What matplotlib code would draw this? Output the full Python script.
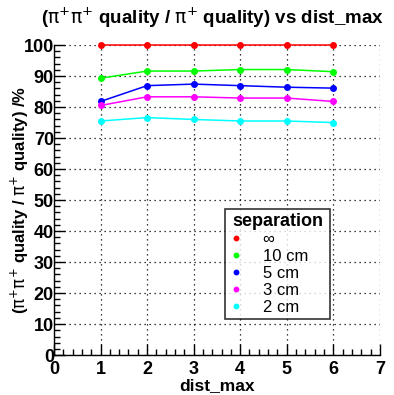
import numpy as np
import matplotlib.pyplot as plt
from matplotlib.ticker import MultipleLocator

plt.rcParams['font.family'] = ['Liberation Sans', 'DejaVu Sans']
plt.rcParams['mathtext.fontset'] = 'dejavusans'

dist_max = [1, 2, 3, 4, 5, 6]
sep_labels = ['\u221e', '10 cm', '5 cm', '3 cm', '2 cm']
sep_colors = ['#ff0000', '#00ff00', '#0000ff', '#ff00ff', '#00ffff']
q_inf = [100, 100, 100, 100, 100, 100]
q_10 = [89.3, 91.6, 91.6, 92.1, 92.1, 91.4]
q_5 = [81.8, 86.9, 87.4, 86.9, 86.4, 86.1]
q_3 = [80.5, 83.3, 83.3, 82.9, 82.9, 81.8]
q_2 = [75.5, 76.6, 76.0, 75.5, 75.5, 75.0]
err_10 = [1.0, 0.3, 0.3, 0.3, 0.3, 0.3]
err_5 = [0.8, 0.3, 0.3, 0.3, 0.3, 0.3]
err_3 = [0.3, 0.3, 0.3, 0.3, 0.3, 0.3]
err_2 = [0.3, 0.3, 0.3, 0.3, 0.3, 0.3]
err_inf = [0, 0, 0, 0, 0, 0]

series = [q_inf, q_10, q_5, q_3, q_2]
errors = [err_inf, err_10, err_5, err_3, err_2]

fig = plt.figure(figsize=(3.94, 3.95), dpi=100)
ax = fig.add_axes([0.137, 0.101, 0.827, 0.785])

for y, e, c, lab in zip(series, errors, sep_colors, sep_labels):
    ax.errorbar(dist_max, y, yerr=e, color=c, lw=1.1, marker='o', ms=4,
                elinewidth=1.0, capsize=0, label=lab, clip_on=False, zorder=3)

ax.set_xlim(0, 7)
ax.set_ylim(0, 100)
ax.xaxis.set_major_locator(MultipleLocator(1))
ax.xaxis.set_minor_locator(MultipleLocator(0.2))
ax.yaxis.set_major_locator(MultipleLocator(10))
ax.yaxis.set_minor_locator(MultipleLocator(2))
ax.tick_params(which='both', direction='in', top=False, right=False, width=1.0,
               labelsize=13)
ax.tick_params(which='major', length=8)
ax.tick_params(which='minor', length=4)
ax.tick_params(axis='y', pad=0)
ax.tick_params(axis='x', pad=4)
for lbl in ax.get_xticklabels() + ax.get_yticklabels():
    lbl.set_fontweight('bold')
ax.spines['top'].set_visible(False)
ax.spines['right'].set_visible(False)
ax.spines['left'].set_linewidth(1.0)
ax.spines['bottom'].set_linewidth(1.0)
ax.grid(True, which='major', color='black', linestyle=(0, (1, 3)), linewidth=0.9)
ax.set_axisbelow(True)

ax.set_xlabel('dist_max', fontsize=12.5, fontweight='bold', labelpad=0)
ax.set_ylabel(r'($\mathrm{\pi^{+}\pi^{+}}$ quality / $\mathrm{\pi^{+}}$ quality) /%',
              fontsize=12, fontweight='bold', labelpad=-5)
fig.text(0.54, 0.955,
         r'($\mathrm{\pi^{+}\pi^{+}}$ quality / $\mathrm{\pi^{+}}$ quality) vs dist_max',
         fontsize=13.5, fontweight='bold', ha='center', va='center')

handles, labels = ax.get_legend_handles_labels()
leg = ax.legend([h[0] for h in handles], labels, title='separation', loc='lower left',
                bbox_to_anchor=(0.5, 0.09, 0.374, 0.368), mode='expand',
                frameon=True, fancybox=False, edgecolor='black', fontsize=12,
                handlelength=0.8, handletextpad=1.2, labelspacing=0.12,
                borderpad=0.25, markerscale=0.8)
leg.get_title().set_fontweight('bold')
leg.get_title().set_fontsize(13)
leg.get_frame().set_linewidth(1.2)
leg.set_zorder(5)
for h in leg.legend_handles:
    h.set_linestyle('none')
for t in leg.get_texts():
    t.set_ha('center')

fig.savefig('out.png', dpi=100)
